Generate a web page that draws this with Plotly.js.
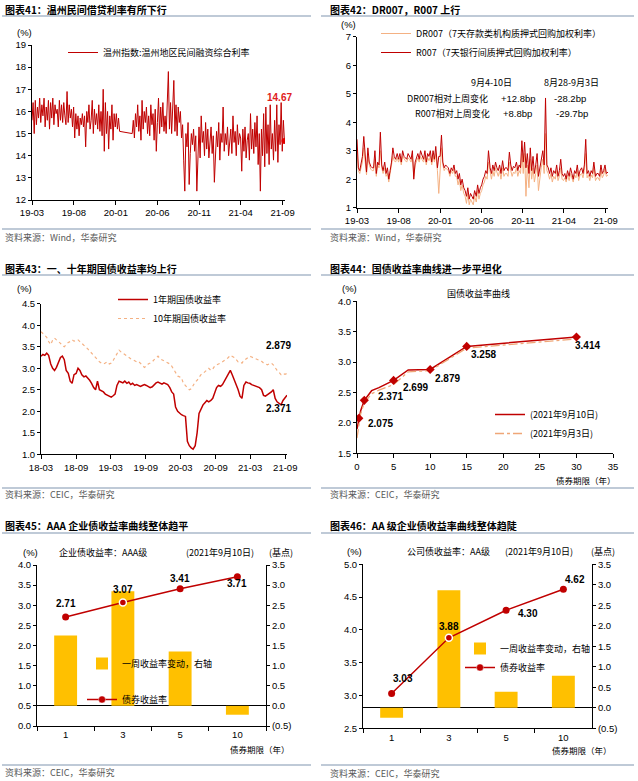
<!DOCTYPE html>
<html><head><meta charset="utf-8">
<script src="https://cdn.plot.ly/plotly-3.0.1.min.js"></script>
<style>html,body{margin:0;padding:0;background:#fff}#c{width:638px;height:781px}</style>
</head><body><div id="c"></div>
<script>
// ---------- DATA ----------
// Fig 41: Wenzhou private lending composite rate (two segments, gap around Chinese New Year 2020)
const wzSeg1Start = '2019-03-01', wzSeg1End = '2020-01-15';
const wzSeg1 = [15.6,16.4,15.0,16.5,15.4,16.2,15.7,16.6,
 15.5,16.3,15.8,16.6,15.3,16.2,15.6,16.5,
 15.2,16.4,15.7,16.6,15.4,16.3,15.9,16.1,
 15.3,16.5,15.6,16.3,15.5,16.4,15.8,
 15.4,16.9,15.5,16.3,15.7,16.1,15.3,16.2,
 14.8,15.9,15.2,15.8,14.9,15.7,15.4,15.9,
 15.3,15.8,14.4,16.0,15.5,16.3,15.2,
 15.6,16.5,15.0,16.1,15.4,15.9,15.2,16.3,
 15.1,16.0,14.9,17.0,14.2,16.4,15.0,
 16.0,14.3,15.8,15.2,16.3,14.7,15.9,15.3,
 15.9,15.2,15.7,15.1];
const wzSeg2Start = '2020-03-01', wzSeg2End = '2021-09-08';
const wzSeg2 = [15.0,15.6,14.8,15.9,15.3,16.3,15.1,15.8,
 14.7,16.5,15.2,16.0,15.5,16.2,15.0,
 15.8,14.9,16.3,15.4,15.9,14.7,16.1,14.2,
 15.5,16.6,15.0,16.2,15.3,16.4,15.1,
 15.8,15.0,16.5,17.8,15.2,16.4,15.0,16.6,
 17.4,15.1,16.3,14.9,16.2,15.5,16.0,14.8,
 15.4,13.8,12.4,15.0,14.4,15.5,12.7,
 14.1,15.0,14.5,15.2,14.2,14.9,12.4,14.6,
 15.3,13.9,15.8,14.6,15.1,14.0,15.5,
 14.3,15.2,13.9,14.8,15.3,14.1,14.9,12.8,
 14.0,15.1,14.4,15.5,13.8,15.0,14.6,16.2,
 14.2,15.0,14.5,15.3,14.0,14.9,15.2,
 14.1,15.8,14.6,15.1,14.0,15.4,14.5,15.0,
 14.8,13.3,15.2,14.2,15.3,13.9,14.7,
 15.0,13.8,15.9,14.3,15.2,14.1,15.5,14.4,
 15.8,13.6,15.0,12.4,15.2,14.0,15.9,
 13.5,16.2,14.1,15.4,13.6,16.3,14.3,15.0,
 13.8,15.6,14.2,16.3,13.7,15.4,14.5,16.4,
 14.2,15.6,14.67];

// Fig 42: DR007 and R007 (%)
const repoStart = '2019-03-01', repoEnd = '2021-09-10';
const r007 = [3.40,2.40,2.30,2.55,2.80,3.50, 2.80,2.25,3.10,2.60,2.45,2.40, 2.40,3.00,2.20,2.60,2.50,3.65,
 2.50,2.30,2.60,2.20,2.40,2.00, 2.30,2.60,3.10,2.80,2.70,2.90, 2.70,2.90,2.60,3.00,2.80,2.75,
 2.70,2.90,2.80,2.70,3.00,2.00, 2.60,2.80,2.90,2.70,3.00,2.85, 2.70,3.00,2.60,2.90,2.80,3.00,
 2.60,3.00,2.70,3.15,2.40,2.80, 2.80,3.55,2.60,2.40,2.50,2.45, 2.40,2.20,2.40,2.30,2.50,2.20,
 2.30,2.00,2.20,1.80,2.00,1.70, 1.60,1.40,1.70,1.30,1.50,1.40, 1.30,1.60,1.40,1.80,1.50,1.70,
 1.80,2.00,2.10,2.30,2.20,3.00, 2.40,2.20,2.50,2.30,2.60,2.40, 2.30,2.50,2.20,2.65,2.30,2.40,
 2.40,2.30,2.95,2.50,2.30,2.45, 2.40,2.60,2.30,2.50,2.40,3.35, 2.60,3.30,2.40,2.90,2.20,3.10,
 2.30,2.80,2.20,2.50,2.90,2.10, 2.40,2.70,3.00,2.50,4.85,2.50, 2.40,2.20,2.40,2.10,2.30,2.20,
 2.50,2.10,2.30,2.70,2.20,2.10, 2.20,2.00,2.30,2.10,2.40,2.20, 2.00,2.30,2.20,2.50,2.10,2.30,
 2.40,2.20,2.50,3.40,2.20,2.30, 2.10,2.30,2.20,2.60,2.10,2.20, 2.20,2.10,2.50,2.20,2.30,2.50,
 2.20,2.25];
const dr007 = [3.00,2.30,2.20,2.40,2.60,3.10, 2.60,2.15,2.80,2.50,2.35,2.30, 2.30,2.70,2.10,2.50,2.40,3.00,
 2.40,2.20,2.40,2.10,2.20,1.90, 2.20,2.50,2.80,2.65,2.60,2.75, 2.60,2.75,2.50,2.80,2.70,2.65,
 2.60,2.75,2.70,2.60,2.80,2.10, 2.50,2.65,2.75,2.60,2.80,2.70, 2.60,2.80,2.50,2.75,2.65,2.80,
 2.50,2.80,2.60,2.90,2.30,1.50, 2.60,3.10,2.50,2.30,2.40,2.35, 2.30,2.10,2.30,2.20,2.35,2.10,
 2.10,1.80,2.00,1.60,1.80,1.50, 1.40,1.15,1.50,1.10,1.30,1.20, 1.10,1.40,1.20,1.60,1.30,1.50,
 1.60,1.80,1.90,2.10,2.00,2.60, 2.20,2.00,2.30,2.10,2.40,2.20, 2.10,2.30,2.00,2.40,2.10,2.20,
 2.20,2.10,2.60,2.30,2.10,2.25, 2.20,2.40,2.10,2.30,2.20,2.90, 2.20,2.90,1.40,2.50,1.70,2.70,
 2.00,2.40,1.90,2.20,2.50,1.60, 2.10,2.40,2.70,2.20,3.60,2.30, 2.20,2.00,2.20,1.90,2.10,2.00,
 2.30,1.95,2.10,2.40,2.00,1.95, 2.05,1.90,2.15,1.95,2.20,2.05, 1.90,2.15,2.05,2.30,1.95,2.15,
 2.20,2.05,2.30,2.90,2.05,2.15, 1.95,2.15,2.05,2.40,1.95,2.05, 2.05,1.95,2.30,2.05,2.15,2.35,
 2.10,2.15];

// Fig 43: 1Y and 10Y CGB yields (%)
const cgbStart = '2018-03-01', cgbEnd = '2021-09-10';
const cgb1y = [3.28,3.32,3.30, 3.35,3.30,3.10, 3.00,2.95,3.02, 3.15,3.25,3.28, 3.20,2.95,2.88, 2.70,2.65,2.85,
 2.88,3.00,2.95, 2.85,2.80,2.82, 2.78,2.72,2.65, 2.55,2.50,2.70, 2.50,2.47,2.45, 2.40,2.38,2.35,
 2.33,2.36,2.40, 2.60,2.70,2.68, 2.66,2.70,2.65, 2.68,2.62,2.65, 2.60,2.62,2.60, 2.58,2.60,2.62,
 2.60,2.58,2.55, 2.57,2.62,2.66, 2.68,2.65,2.63, 2.66,2.64,2.62, 2.55,2.45,2.40, 2.10,2.00,1.95,
 1.92,1.90,1.88, 1.30,1.20,1.15, 1.12,1.20,1.50, 1.95,2.05,2.15, 2.20,2.25,2.22, 2.25,2.30,2.45,
 2.55,2.60,2.58, 2.62,2.70,2.75, 2.85,2.95,2.85, 2.75,2.60,2.50, 2.35,2.30,2.60, 2.68,2.66,2.65,
 2.62,2.60,2.58, 2.57,2.55,2.50, 2.37,2.35,2.38, 2.40,2.45,2.50, 2.30,2.22,2.18, 2.15,2.25,2.30,
 2.371];
const cgb10y = [3.85,3.80,3.75, 3.72,3.62,3.55, 3.65,3.70,3.66, 3.62,3.58,3.52, 3.50,3.55,3.60, 3.62,3.66,3.63,
 3.64,3.66,3.62, 3.58,3.55,3.50, 3.45,3.40,3.35, 3.30,3.25,3.20, 3.15,3.12,3.10, 3.12,3.15,3.10,
 3.12,3.18,3.25, 3.35,3.42,3.38, 3.35,3.30,3.28, 3.25,3.22,3.20, 3.18,3.15,3.16, 3.12,3.06,3.02,
 3.05,3.10,3.12, 3.15,3.20,3.25, 3.28,3.22,3.20, 3.18,3.15,3.14, 3.10,3.05,2.98, 2.88,2.82,2.80,
 2.78,2.65,2.60, 2.55,2.50,2.52, 2.60,2.68,2.72, 2.78,2.85,2.88, 2.92,2.98,3.00, 2.95,2.98,3.05,
 3.08,3.10,3.12, 3.15,3.18,3.22, 3.25,3.30,3.28, 3.25,3.20,3.15, 3.15,3.12,3.18, 3.22,3.25,3.28,
 3.26,3.24,3.22, 3.20,3.18,3.16, 3.12,3.10,3.08, 3.10,3.12,3.08, 3.00,2.95,2.90, 2.85,2.88,2.86,
 2.879];

// Fig 44: CGB yield curve
const curveTenors = [0, 0.25, 0.5, 1, 2, 3, 5, 7, 10, 15, 30];
const curve0910 = [1.90, 2.075, 2.20, 2.371, 2.53, 2.58, 2.699, 2.87, 2.879, 3.258, 3.414];
const curve0903 = [1.75, 2.00, 2.15, 2.33, 2.48, 2.54, 2.63, 2.84, 2.86, 3.23, 3.38];
const keyTenors = [0.25, 1, 5, 10, 15, 30];
const keyYields = [2.075, 2.371, 2.699, 2.879, 3.258, 3.414];

// Fig 45 / 46: corporate bond curves
const bondTerms = ['1', '3', '5', '10'];
const aaaYield = [2.71, 3.07, 3.41, 3.71];
const aaaChange = [1.75, 2.85, 1.35, -0.22];
const aaYield = [3.03, 3.88, 4.30, 4.62];
const aaChange = [-0.24, 2.87, 0.39, 0.78];
const bpTickVals = [-0.5, 0, 0.5, 1, 1.5, 2, 2.5, 3, 3.5];
const bpTickText = ['(0.5)', '0.0', '0.5', '1.0', '1.5', '2.0', '2.5', '3.0', '3.5'];

// ---------- HELPERS ----------
const W = 638, H = 781;
const px = x => x / W, py = y => 1 - y / H;
function evenDates(start, end, n) {
  const s = Date.parse(start), e = Date.parse(end);
  return Array.from({length: n}, (_, i) => new Date(s + (e - s) * i / (n - 1)).toISOString().slice(0, 10));
}
const CJK = 'Noto Sans CJK SC, Liberation Sans, sans-serif';
const NUM = 'Liberation Sans, Arial, Noto Sans CJK SC, sans-serif';
const RED = '#C00000', PEACH = '#F4B183', GOLD = '#FFC000';

const wzX = evenDates(wzSeg1Start, wzSeg1End, wzSeg1.length).concat(evenDates(wzSeg2Start, wzSeg2End, wzSeg2.length));
const wzY = wzSeg1.concat(wzSeg2);
const repoX = evenDates(repoStart, repoEnd, r007.length);
const cgbX = evenDates(cgbStart, cgbEnd, cgb1y.length);

// ---------- TRACES ----------
const traces = [
  {x: wzX, y: wzY, xaxis: 'x', yaxis: 'y', mode: 'lines', line: {color: RED, width: 1},
   name: '温州指数:温州地区民间融资综合利率', legend: 'legend'},
  {x: [wzX[wzX.length - 1]], y: [wzY[wzY.length - 1]], xaxis: 'x', yaxis: 'y', mode: 'markers',
   marker: {color: '#E00000', size: 6}, showlegend: false},

  {x: repoX, y: dr007, xaxis: 'x2', yaxis: 'y2', mode: 'lines', line: {color: PEACH, width: 1},
   name: 'DR007（7天存款类机构质押式回购加权利率）', legend: 'legend2'},
  {x: repoX, y: r007, xaxis: 'x2', yaxis: 'y2', mode: 'lines', line: {color: RED, width: 1},
   name: 'R007（7天银行间质押式回购加权利率）', legend: 'legend2'},

  {x: cgbX, y: cgb1y, xaxis: 'x3', yaxis: 'y3', mode: 'lines', line: {color: RED, width: 1.5},
   name: '1年期国债收益率', legend: 'legend3'},
  {x: cgbX, y: cgb10y, xaxis: 'x3', yaxis: 'y3', mode: 'lines', line: {color: PEACH, width: 1.2, dash: 'dot'},
   name: '10年期国债收益率', legend: 'legend3'},

  {x: curveTenors, y: curve0910, xaxis: 'x4', yaxis: 'y4', mode: 'lines', line: {color: RED, width: 1.5},
   name: '(2021年9月10日)', legend: 'legend4', legendgroup: 'c1'},
  {x: curveTenors, y: curve0903, xaxis: 'x4', yaxis: 'y4', mode: 'lines', line: {color: '#EFA677', width: 1.3, dash: 'dashdot'},
   name: '(2021年9月3日)', legend: 'legend4', legendgroup: 'c2'},
  {x: keyTenors, y: keyYields, xaxis: 'x4', yaxis: 'y4', mode: 'markers',
   marker: {color: RED, size: 7, symbol: 'diamond'}, showlegend: false},

  {x: bondTerms, y: aaaChange, xaxis: 'x5', yaxis: 'y5', type: 'bar', width: 0.4, marker: {color: GOLD},
   name: '一周收益率变动，右轴', legend: 'legend5', legendgroup: 'a1'},
  {x: bondTerms, y: aaaYield, xaxis: 'x5', yaxis: 'y6', mode: 'lines+markers', line: {color: RED, width: 1.5},
   marker: {color: RED, size: 7, line: {color: '#fff', width: [0, 1.5, 0, 0]}},
   name: '债券收益率', legend: 'legend5', legendgroup: 'a2'},

  {x: bondTerms, y: aaChange, xaxis: 'x6', yaxis: 'y7', type: 'bar', width: 0.4, marker: {color: GOLD},
   name: '一周收益率变动，右轴', legend: 'legend6', legendgroup: 'b1'},
  {x: bondTerms, y: aaYield, xaxis: 'x6', yaxis: 'y8', mode: 'lines+markers', line: {color: RED, width: 1.5},
   marker: {color: RED, size: 7, line: {color: '#fff', width: [0, 1.5, 0, 0]}},
   name: '债券收益率', legend: 'legend6', legendgroup: 'b2'}
];

// ---------- AXES ----------
const base = {showline: true, linecolor: '#000', linewidth: 1, ticks: 'outside', ticklen: 3, tickcolor: '#000',
  showgrid: false, zeroline: false, tickfont: {size: 9.5, family: NUM, color: '#000'}, fixedrange: true};
const ax = o => Object.assign({}, base, o);

const layout = {
  width: W, height: H, margin: {l: 0, r: 0, t: 0, b: 0},
  paper_bgcolor: '#fff', plot_bgcolor: 'rgba(0,0,0,0)',
  font: {family: NUM, size: 9.5, color: '#000'},
  hovermode: false, showlegend: true,
  xaxis: ax({domain: [px(32), px(285)], anchor: 'y', type: 'date', range: ['2019-03-01', '2021-09-10'],
    tick0: '2019-03-01', dtick: 'M5', tickformat: '%y-%m', ticklen: 4}),
  yaxis: ax({domain: [py(200), py(45)], anchor: 'x', range: [12, 19], dtick: 1}),
  xaxis2: ax({domain: [px(357), px(608)], anchor: 'y2', type: 'date', range: ['2019-03-01', '2021-09-10'],
    tick0: '2019-03-01', dtick: 'M5', tickformat: '%y-%m', ticklen: 4}),
  yaxis2: ax({domain: [py(207.7), py(36.7)], anchor: 'x2', range: [1, 7], dtick: 1}),
  xaxis3: ax({domain: [px(41), px(287)], anchor: 'y3', type: 'date', range: ['2018-03-01', '2021-09-10'],
    tick0: '2018-03-01', dtick: 'M6', tickformat: '%y-%m', ticklen: 4}),
  yaxis3: ax({domain: [py(454.3), py(303.7)], anchor: 'x3', range: [1, 4.5], dtick: 0.5, tickformat: '.1f'}),
  xaxis4: ax({domain: [px(357), px(613)], anchor: 'y4', range: [0, 35], dtick: 5, ticklen: 4}),
  yaxis4: ax({domain: [py(453.3), py(301.3)], anchor: 'x4', range: [1.5, 4], dtick: 0.5, tickformat: '.1f'}),
  xaxis5: ax({domain: [px(37), px(266)], anchor: 'y5', type: 'category', range: [-0.5, 3.5], tickson: 'boundaries', ticklen: 4}),
  yaxis5: ax({domain: [py(726), py(565)], anchor: 'x5', side: 'right', range: [-0.5, 3.5],
    tickvals: bpTickVals, ticktext: bpTickText, zeroline: true, zerolinecolor: '#000', zerolinewidth: 1}),
  yaxis6: ax({overlaying: 'y5', anchor: 'x5', side: 'left', range: [0, 4], dtick: 0.5, tickformat: '.1f'}),
  xaxis6: ax({domain: [px(363), px(592)], anchor: 'y7', type: 'category', range: [-0.5, 3.5], tickson: 'boundaries', ticklen: 4}),
  yaxis7: ax({domain: [py(728.3), py(564.3)], anchor: 'x6', side: 'right', range: [-0.5, 3.5],
    tickvals: bpTickVals, ticktext: bpTickText, zeroline: true, zerolinecolor: '#000', zerolinewidth: 1}),
  yaxis8: ax({overlaying: 'y7', anchor: 'x6', side: 'left', range: [2.5, 5], dtick: 0.5, tickformat: '.1f'})
};

const leg = (x, y, extra) => Object.assign({x: px(x), y: py(y), xanchor: 'left', yanchor: 'top',
  bgcolor: 'rgba(0,0,0,0)', borderwidth: 0, font: {size: 9, family: CJK, color: '#000'}}, extra || {});
layout.legend = leg(63, 38);
layout.legend2 = leg(376, 19);
layout.legend3 = leg(113, 285);
layout.legend4 = leg(490, 400, {traceorder: 'grouped', tracegroupgap: 0});
layout.legend5 = leg(82, 649, {traceorder: 'grouped', tracegroupgap: 17});
layout.legend6 = leg(460, 634, {traceorder: 'grouped', tracegroupgap: 0});

// ---------- ANNOTATIONS ----------
const A = [];
const note = (x, y, text, o) => A.push(Object.assign({xref: 'paper', yref: 'paper', x: px(x), y: py(y), text: text,
  showarrow: false, xanchor: 'center', yanchor: 'middle', font: {size: 9, family: CJK, color: '#000'}}, o || {}));
const titleFont = {size: 10, family: CJK, color: '#000'};
const srcFont = {size: 9, family: CJK, color: '#595959'};
note(3, 10, '<b>图表41：温州民间借贷利率有所下行</b>', {xanchor: 'left', font: titleFont});
note(328, 10, '<b>图表42：DR007，R007 上行</b>', {xanchor: 'left', font: titleFont});
note(3, 268, '<b>图表43：一、十年期国债收益率均上行</b>', {xanchor: 'left', font: titleFont});
note(328, 268, '<b>图表44：国债收益率曲线进一步平坦化</b>', {xanchor: 'left', font: titleFont});
note(3, 525, '<b>图表45：AAA 企业债收益率曲线整体趋平</b>', {xanchor: 'left', font: titleFont});
note(328, 525, '<b>图表46：AA 级企业债收益率曲线整体趋陡</b>', {xanchor: 'left', font: titleFont});
note(3, 237, '资料来源：Wind，华泰研究', {xanchor: 'left', font: srcFont});
note(328, 237, '资料来源：Wind，华泰研究', {xanchor: 'left', font: srcFont});
note(3, 494, '资料来源：CEIC，华泰研究', {xanchor: 'left', font: srcFont});
note(328, 494, '资料来源：CEIC，华泰研究', {xanchor: 'left', font: srcFont});
note(3, 772, '资料来源：CEIC，华泰研究', {xanchor: 'left', font: srcFont});
note(328, 773, '资料来源：CEIC，华泰研究', {xanchor: 'left', font: srcFont});

const pct = {size: 9.5, family: NUM, color: '#000'};
note(24.5, 33, '(%)', {font: pct});
note(348, 24, '(%)', {font: pct});
note(24, 289, '(%)', {font: pct});
note(349, 288, '(%)', {font: pct});
note(30, 552, '(%)', {font: pct});
note(354, 551, '(%)', {font: pct});
note(281, 552, '(基点)');
note(603, 551, '(基点)');

// Fig 41 end label
A.push({xref: 'x', yref: 'y', x: wzX[wzX.length - 1], y: wzY[wzY.length - 1], text: '<b>' + wzY[wzY.length - 1].toFixed(2) + '</b>',
  showarrow: false, xshift: -4.5, yshift: 43, font: {size: 10, family: NUM, color: '#E02020'}});

// Fig 42 notes
note(491, 82, '9月4-10日');
note(571, 82, '8月28-9月3日');
note(490, 98, 'DR007相对上周变化', {xanchor: 'right'});
note(518, 98, '+12.8bp', {font: pct});
note(570, 98, '-28.2bp', {font: pct});
note(492, 113, 'R007相对上周变化', {xanchor: 'right'});
note(517, 113, '+8.8bp', {font: pct});
note(572, 113, '-29.7bp', {font: pct});

// Fig 43 end labels
const lblF = {size: 10, family: NUM, color: '#000'};
A.push({xref: 'x3', yref: 'y3', x: cgbX[cgbX.length - 1], y: cgb10y[cgb10y.length - 1], text: '<b>' + cgb10y[cgb10y.length - 1].toFixed(3) + '</b>',
  showarrow: false, xshift: -9, yshift: 28, font: lblF});
A.push({xref: 'x3', yref: 'y3', x: cgbX[cgbX.length - 1], y: cgb1y[cgb1y.length - 1], text: '<b>' + cgb1y[cgb1y.length - 1].toFixed(3) + '</b>',
  showarrow: false, xshift: -9, yshift: -13, font: lblF});

// Fig 44 labels
note(478, 294, '国债收益率曲线');
note(586, 480, '债券期限（年）', {font: {size: 8.5, family: CJK, color: '#000'}});
const k44x = [7.5, 12, 7.6, 2.7, 2.7, -3];
const k44y = [-4.7, 3.6, -7.4, -9, -8.3, -8.3];
keyTenors.forEach((t, i) => A.push({xref: 'x4', yref: 'y4', x: t, y: keyYields[i], text: '<b>' + keyYields[i].toFixed(3) + '</b>',
  showarrow: false, xanchor: 'left', xshift: k44x[i], yshift: k44y[i], font: lblF}));

// Fig 45 labels
note(102.5, 552, '企业债收益率：AAA级');
note(220, 552, '(2021年9月10日)');
note(259.5, 749, '债券期限（年）', {font: {size: 8.5, family: CJK, color: '#000'}});
const s45x = [0, 0, 0, 0], s45y = [13, 13, 10, -7];
aaaYield.forEach((v, i) => A.push({xref: 'x5', yref: 'y6', x: i, y: v, text: '<b>' + v.toFixed(2) + '</b>',
  showarrow: false, xshift: s45x[i], yshift: s45y[i], font: lblF}));

// Fig 46 labels
note(448, 551, '公司债收益率：AA级');
note(539, 551, '(2021年9月10日)');
note(582, 750, '债券期限（年）', {font: {size: 8.5, family: CJK, color: '#000'}});
const s46x = [11, 0, 22, 12], s46y = [15.5, 11, -3.5, 10];
aaYield.forEach((v, i) => A.push({xref: 'x6', yref: 'y8', x: i, y: v, text: '<b>' + v.toFixed(2) + '</b>',
  showarrow: false, xshift: s46x[i], yshift: s46y[i], font: lblF}));

layout.annotations = A;

// ---------- RULE LINES ----------
const RULE = '#8096B0';
const rule = (x0, x1, y) => ({type: 'line', xref: 'paper', yref: 'paper', x0: px(x0), x1: px(x1), y0: py(y), y1: py(y),
  line: {color: RULE, width: 1.2}});
layout.shapes = [
  rule(2, 311, 16), rule(321, 634, 16), rule(2, 311, 229), rule(321, 634, 229),
  rule(2, 311, 275), rule(321, 634, 275), rule(2, 311, 488), rule(321, 634, 488),
  rule(2, 311, 533), rule(321, 634, 533), rule(2, 311, 765), rule(321, 634, 765)
];

Plotly.newPlot('c', traces, layout, {staticPlot: true, displayModeBar: false});
</script>
</body></html>
